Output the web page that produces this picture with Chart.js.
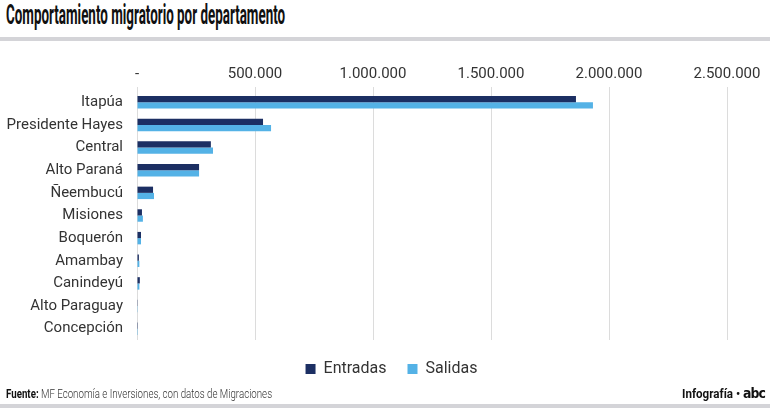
<!DOCTYPE html>
<html>
<head>
<meta charset="utf-8">
<script src="https://cdn.jsdelivr.net/npm/chart.js@4"></script>
<style>
  body { margin: 0; width: 770px; height: 408px; background: #fff; position: relative; overflow: hidden; font-family: Roboto, sans-serif; }
  .squeeze { position: absolute; white-space: nowrap; transform-origin: left top; }
  #title { left: 6px; top: -2px; font-family: Roboto, sans-serif; font-weight: bold; font-size: 28px; color: #111; }
  .band { position: absolute; left: 0; width: 770px; background: #d4d4d8; }
  #wrap { position: absolute; left: 0; top: 45px; width: 770px; height: 342px; }
  #src { left: 6px; top: 386px; font-family: Roboto, sans-serif; font-size: 13px; font-weight: 300; color: #333; }
  #src b { color: #111; font-weight: bold; }
  #brand { left: 682px; top: 385px; font-family: Roboto, sans-serif; font-size: 13px; font-weight: bold; color: #111; }
  #brand span { font-family: "DejaVu Sans", sans-serif; font-weight: 900; letter-spacing: -1px; font-size: 14px; }
</style>
</head>
<body>
<div id="title" class="squeeze">Comportamiento migratorio por departamento</div>
<div class="band" style="top:37px;height:4px"></div>
<div id="wrap"><canvas id="myChart"></canvas></div>
<div id="src" class="squeeze"><b>Fuente:</b> MF Economía e Inversiones, con datos de Migraciones</div>
<div id="brand" class="squeeze">Infografía • <span>abc</span></div>
<div class="band" style="top:404px;height:4px"></div>
<script>
var departamentos = ["Itapúa", "Presidente Hayes", "Central", "Alto Paraná", "Ñeembucú", "Misiones", "Boquerón", "Amambay", "Canindeyú", "Alto Paraguay", "Concepción"];
var entradas = [1860000, 534000, 313000, 263000, 68000, 21000, 17000, 8000, 12000, 1000, 500];
var salidas = [1932000, 568000, 322000, 263000, 72000, 25000, 17000, 10000, 10000, 1000, 500];
var xTicks = [0, 500000, 1000000, 1500000, 2000000, 2500000];

// squeeze the condensed texts to the reference widths
function fitWidth(id, w) {
    var el = document.getElementById(id);
    el.style.transform = 'scaleX(' + (w / el.offsetWidth) + ')';
}
fitWidth('title', 279);
fitWidth('src', 266);
fitWidth('brand', 83);

function fmt(v) {
    if (v == 0) return "-";
    return v.toString().replace(/\B(?=(\d{3})+(?!\d))/g, ".");
}

// legend sits a bit right of the plot centre in the original
var shiftLegend = {
    id: 'shiftLegend',
    afterLayout: function(chart) {
        chart.legend.left += 28;
        chart.legend.right += 28;
    }
};

var ctx = document.getElementById('myChart').getContext('2d');
var myChart = new Chart(ctx, {
    type: 'bar',
    data: {
        labels: departamentos,
        datasets: [{
            label: 'Entradas',
            data: entradas,
            backgroundColor: '#1c2f63',
            barPercentage: 1,
            categoryPercentage: 0.55
        },
        {
            label: 'Salidas',
            data: salidas,
            backgroundColor: '#54b2e6',
            barPercentage: 1,
            categoryPercentage: 0.55
        }]
    },
    plugins: [shiftLegend],
    options: {
        indexAxis: 'y',
        responsive: true,
        maintainAspectRatio: false,
        animation: false,
        layout: { padding: { left: 0, right: 43, top: 10, bottom: 0 } },
        plugins: {
            legend: {
                position: 'bottom',
                labels: {
                    boxWidth: 10, boxHeight: 10, padding: 21,
                    color: '#333',
                    font: { family: 'Roboto', size: 16 }
                }
            },
            tooltip: { enabled: false }
        },
        scales: {
            x: {
                position: 'top',
                min: 0, max: 2500000,
                afterBuildTicks: function(axis) {
                    axis.ticks = xTicks.map(function(v) { return { value: v }; });
                },
                ticks: {
                    callback: function(v) { return fmt(v); },
                    color: '#333',
                    maxRotation: 0,
                    padding: 4,
                    font: { family: 'Roboto', size: 15 }
                },
                grid: { color: '#dcdcdc', tickLength: 4 },
                border: { display: false },
                afterFit: function(axis) { axis.height = 36; }
            },
            y: {
                ticks: {
                    color: '#333',
                    padding: 6,
                    autoSkip: false,
                    font: { family: 'Roboto', size: 15 }
                },
                grid: { display: false },
                border: { display: false },
                afterFit: function(axis) { axis.width = 137; }
            }
        }
    }
});
</script>
</body>
</html>
